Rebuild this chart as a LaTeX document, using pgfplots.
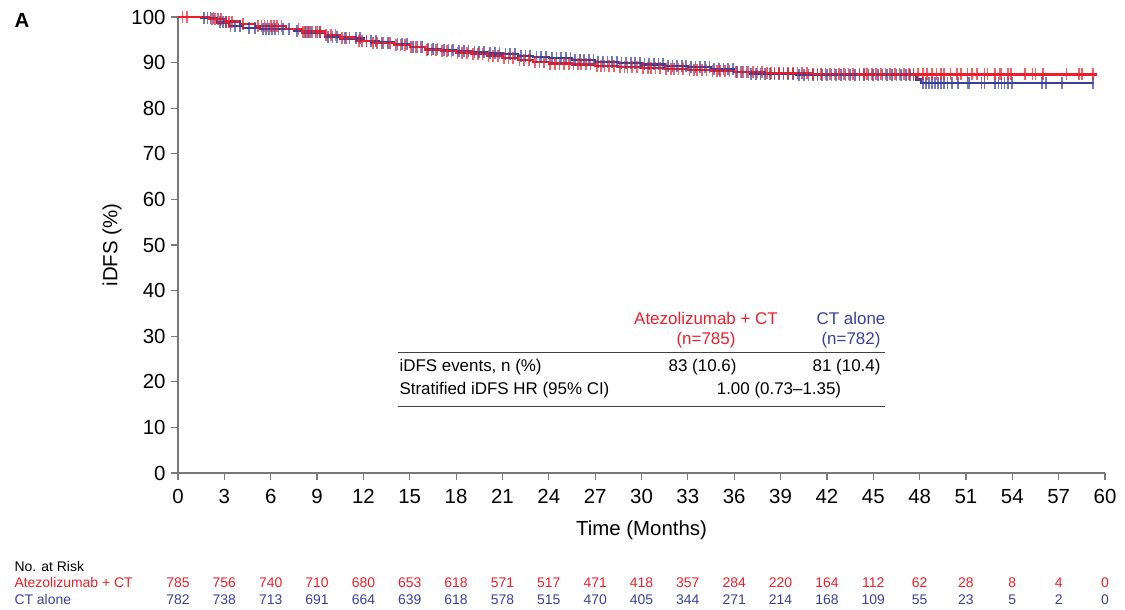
\documentclass[border=0pt]{standalone}
\usepackage{fontspec}
\setmainfont{Liberation Sans}
\usepackage{pgfplots}
\pgfplotsset{compat=1.18}
\definecolor{atezo}{RGB}{237,30,40}
\definecolor{ctal}{RGB}{55,65,155}
\definecolor{axgray}{RGB}{120,120,120}
\newcommand{\fbig}{\fontsize{20.5}{24}\selectfont}
\newcommand{\fmid}{\fontsize{17}{20}\selectfont}
\newcommand{\fsml}{\fontsize{14}{17}\selectfont}

\begin{document}
\begin{tikzpicture}[x=1bp,y=1bp]
\useasboundingbox (-178,-137) rectangle (947,473);
\begin{axis}[
  at={(0,0)}, anchor=south west,
  scale only axis, width=927bp, height=456bp,
  xmin=0, xmax=60, ymin=0, ymax=100,
  axis lines*=left,
  axis line style={axgray, line width=1.3bp},
  xtick={0,3,...,60}, ytick={0,10,...,100},
  tick align=outside, major tick length=7bp,
  tick style={axgray, line width=1.2bp},
  ticklabel style={font=\fbig},
  xticklabel style={yshift=-6bp},
  yticklabel style={xshift=-2bp},
  /pgf/number format/assume math mode=true,
  xlabel={Time (Months)}, ylabel={iDFS (\%)},
  every axis x label/.style={at={(axis description cs:0.5,-0.125)}, anchor=center, font=\fbig},
  every axis y label/.style={at={(axis description cs:-0.071,0.5)}, rotate=90, anchor=center, font=\fbig},
  censor/.style={only marks, mark=|, mark size=6bp, mark options={line width=1.7bp, opacity=0.7}},
  clip=false,
]
% CT alone
\addplot[const plot, ctal, line width=2.2bp] coordinates {
 (0,100) (1.5,99.7) (2.5,98.8) (3.3,98.1) (4.2,97.5) (5.3,97.3) (7.5,97.0)
 (8.0,96.6) (9.5,95.7) (10.5,95.3) (12,94.8) (13,94.4) (14,94.0) (15,93.5)
 (16,92.9) (17,92.7) (18,92.5) (19,92.3) (20,92.0) (21,91.8) (22,91.5)
 (23,91.3) (24,91.0) (25.5,90.6) (27,90.2) (28.5,89.9) (30,89.6) (31.5,89.3)
 (33,89.0) (34.5,88.5) (36,87.9) (37,87.5) (40,87.2) (47.8,86.3) (48.1,85.5)
 (59.3,85.5)
};
\addplot[censor, ctal] coordinates {
 (1.7,99.7)(1.9,99.7)(2.1,99.7)(2.3,99.7)(2.7,98.8)(2.9,98.8)(3.1,98.8)(3.4,98.1)
 (3.7,98.1)(4.0,98.1)(4.6,97.5)(5.0,97.5)(5.5,97.3)(5.7,97.3)(5.9,97.3)(6.1,97.3)
 (6.3,97.3)(6.5,97.3)(6.8,97.3)(7.2,97.3)(7.7,97.0)(8.2,96.6)(8.4,96.6)(8.6,96.6)
 (8.9,96.6)(9.2,96.6)(9.7,95.7)(10.0,95.7)(10.3,95.7)(10.8,95.3)(11.1,95.3)
 (11.5,95.3)(11.8,95.3)(12.2,94.8)(12.5,94.8)(12.8,94.8)(13.2,94.4)(13.6,94.4)
 (14.2,94.0)(14.5,94.0)(14.8,94.0)(15.2,93.5)(15.5,93.5)(15.8,93.5)(16.2,92.9)
 (16.5,92.9)(16.8,92.9)(17.2,92.7)(17.5,92.7)(17.8,92.7)(18.2,92.5)(18.5,92.5)
 (18.8,92.5)(19.2,92.3)(19.5,92.3)(19.8,92.3)(20.2,92.0)(20.5,92.0)(20.8,92.0)
 (21.2,91.8)(21.5,91.8)(21.8,91.8)(22.2,91.5)(22.5,91.5)(22.8,91.5)(23.2,91.3)
 (23.5,91.3)(23.8,91.3)(24.2,91.0)(24.5,91.0)(24.8,91.0)(25.1,91.0)(25.4,91.0)
 (25.7,90.6)(26.0,90.6)(26.3,90.6)(26.6,90.6)(26.9,90.6)
 (27.2,90.2)(27.5,90.2)(27.8,90.2)(28.1,90.2)(28.4,90.2)
 (28.7,89.9)(29.0,89.9)(29.3,89.9)(29.6,89.9)(29.9,89.9)
 (30.2,89.6)(30.5,89.6)(30.8,89.6)(31.1,89.6)(31.4,89.6)
 (31.7,89.3)(32.0,89.3)(32.3,89.3)(32.6,89.3)(32.9,89.3)
 (33.2,89.0)(33.5,89.0)(33.8,89.0)(34.1,89.0)(34.4,89.0)
 (34.7,88.5)(35.0,88.5)(35.3,88.5)(35.6,88.5)(35.9,88.5)
 (36.2,87.9)(36.5,87.9)(36.8,87.9)
 (37.1,87.5)(37.4,87.5)(37.7,87.5)(38.0,87.5)(38.3,87.5)(38.6,87.5)(38.9,87.5)
 (39.2,87.5)(39.5,87.5)(39.8,87.5)
 (40.2,87.2)(40.5,87.2)(40.8,87.2)(41.1,87.2)(41.4,87.2)(41.7,87.2)(42.0,87.2)
 (42.3,87.2)(42.6,87.2)(42.9,87.2)(43.2,87.2)(43.5,87.2)(43.8,87.2)(44.1,87.2)
 (44.4,87.2)(44.7,87.2)(45.0,87.2)(45.3,87.2)(45.6,87.2)(45.9,87.2)(46.2,87.2)
 (46.5,87.2)(46.8,87.2)(47.1,87.2)(47.4,87.2)(47.6,87.2)
 (48.2,85.5)(48.4,85.5)(48.6,85.5)(48.8,85.5)(49.0,85.5)(49.2,85.5)(49.4,85.5)
 (49.6,85.5)(49.8,85.5)(50.1,85.5)(50.5,85.5)(51.1,85.5)(51.2,85.5)(52.0,85.5)
 (52.2,85.5)(52.9,85.5)(53.1,85.5)(53.3,85.5)(53.5,85.5)(53.7,85.5)(54.0,85.5)
 (55.9,85.5)(56.2,85.5)(57.2,85.5)(59.2,85.5)
};
% Atezolizumab + CT
\addplot[const plot, atezo, line width=2.2bp] coordinates {
 (0,100) (2.0,99.5) (3.0,99.0) (4.0,98.5) (5.0,98.1) (7.0,97.4) (8.0,96.8)
 (9.5,96.1) (10.5,95.5) (11.5,94.8) (12.5,94.3) (14,93.8) (15,93.4) (16,92.8)
 (17,92.5) (18,92.2) (19,91.8) (20,91.4) (21,91.0) (22,90.6) (23,90.2)
 (24,89.8) (25.5,89.6) (27,89.3) (28.5,89.0) (30,88.8) (31.5,88.6) (33,88.4)
 (34.5,88.2) (36,88.0) (38,87.7) (41,87.5) (44,87.4) (59.5,87.4)
};
\addplot[censor, atezo] coordinates {
 (0.3,100)(0.6,100)(2.2,99.5)(2.4,99.5)(2.6,99.5)(2.8,99.5)(3.1,99.0)(3.3,99.0)
 (3.5,99.0)(4.2,98.5)(5.2,98.1)(5.4,98.1)(5.6,98.1)(5.8,98.1)(6.0,98.1)(6.2,98.1)
 (6.4,98.1)(6.7,98.1)(7.8,97.4)(8.1,96.8)(8.3,96.8)(8.5,96.8)(8.7,96.8)(9.0,96.8)
 (9.2,96.8)(9.6,96.1)(9.9,96.1)(10.2,96.1)(10.6,95.5)(10.9,95.5)(11.7,94.8)
 (11.9,94.8)(12.2,94.8)(12.6,94.3)(12.9,94.3)(13.3,94.3)(13.7,94.3)(14.1,93.8)
 (14.4,93.8)(14.7,93.8)(15.1,93.4)(15.4,93.4)(15.7,93.4)(16.1,92.8)(16.4,92.8)
 (16.7,92.8)(17.1,92.5)(17.4,92.5)(17.7,92.5)(18.1,92.2)(18.4,92.2)(18.7,92.2)
 (19.1,91.8)(19.4,91.8)(19.7,91.8)(20.1,91.4)(20.4,91.4)(20.7,91.4)(21.1,91.0)
 (21.4,91.0)(21.7,91.0)(22.1,90.6)(22.4,90.6)(22.7,90.6)(23.1,90.2)(23.4,90.2)
 (23.7,90.2)(24.1,89.8)(24.4,89.8)(24.7,89.8)(25.0,89.8)(25.3,89.8)
 (25.6,89.6)(25.9,89.6)(26.1,89.6)(26.4,89.6)(26.7,89.6)
 (27.1,89.3)(27.4,89.3)(27.6,89.3)(27.9,89.3)(28.2,89.3)
 (28.6,89.0)(28.9,89.0)(29.1,89.0)(29.4,89.0)(29.7,89.0)
 (30.1,88.8)(30.4,88.8)(30.6,88.8)(30.9,88.8)(31.2,88.8)
 (31.6,88.6)(31.9,88.6)(32.1,88.6)(32.4,88.6)(32.7,88.6)
 (33.1,88.4)(33.4,88.4)(33.6,88.4)(33.9,88.4)(34.2,88.4)
 (34.6,88.2)(34.9,88.2)(35.1,88.2)(35.4,88.2)(35.7,88.2)
 (36.1,88.0)(36.4,88.0)(36.6,88.0)(36.9,88.0)(37.2,88.0)(37.5,88.0)(37.8,88.0)
 (38.1,87.7)(38.4,87.7)(38.6,87.7)(38.9,87.7)(39.2,87.7)(39.5,87.7)(39.8,87.7)
 (40.1,87.7)(40.4,87.7)(40.7,87.7)
 (41.1,87.5)(41.4,87.5)(41.6,87.5)(41.9,87.5)(42.2,87.5)(42.5,87.5)(42.8,87.5)
 (43.1,87.5)(43.4,87.5)(43.7,87.5)
 (44.1,87.4)(44.4,87.4)(44.6,87.4)(44.9,87.4)(45.2,87.4)(45.5,87.4)(45.8,87.4)
 (46.1,87.4)(46.4,87.4)(46.7,87.4)(47.0,87.4)(47.3,87.4)(47.6,87.4)(47.9,87.4)
 (48.2,87.4)(48.5,87.4)(48.8,87.4)(49.1,87.4)(49.4,87.4)
 (49.6,87.4)(50.0,87.4)(50.4,87.4)(50.7,87.4)(51.1,87.4)(51.4,87.4)(51.7,87.4)
 (52.2,87.4)(52.4,87.4)(52.9,87.4)(53.2,87.4)(53.3,87.4)(53.7,87.4)(53.9,87.4)
 (54.8,87.4)(55.3,87.4)(55.5,87.4)(56.0,87.4)(57.5,87.4)(58.3,87.4)(58.5,87.4)
 (59.2,87.4)
};
\end{axis}

% panel letter
\node[anchor=west, font=\fbig\bfseries] at (-167,453) {A};

% summary table
\node[atezo, font=\fmid] at (528,155) {Atezolizumab + CT};
\node[atezo, font=\fmid] at (528,133) {(n=785)};
\node[ctal, font=\fmid] at (673,155) {CT alone};
\node[ctal, font=\fmid] at (673,133) {(n=782)};
\draw[black!75, line width=0.9bp] (220,121) -- (707,121);
\node[anchor=west, font=\fmid] at (218,106) {iDFS events, n (\%)};
\node[anchor=east, font=\fmid] at (562,106) {83 (10.6)};
\node[anchor=east, font=\fmid] at (706,106) {81 (10.4)};
\node[anchor=west, font=\fmid] at (218,83) {Stratified iDFS HR (95\% CI)};
\node[font=\fmid] at (601,83) {1.00 (0.73--1.35)};
\draw[black!75, line width=0.9bp] (220,67) -- (707,67);

% number at risk
\node[anchor=west, font=\fsml] at (-167,-94) {No. at Risk};
\node[anchor=west, font=\fsml, atezo] at (-167,-110) {Atezolizumab + CT};
\node[anchor=west, font=\fsml, ctal] at (-167,-127) {CT alone};
\foreach \t/\a/\b in {0/785/782, 3/756/738, 6/740/713, 9/710/691, 12/680/664,
  15/653/639, 18/618/618, 21/571/578, 24/517/515, 27/471/470, 30/418/405,
  33/357/344, 36/284/271, 39/220/214, 42/164/168, 45/112/109, 48/62/55,
  51/28/23, 54/8/5, 57/4/2, 60/0/0} {
  \node[atezo, font=\fsml] at (\t*15.45,-110) {\a};
  \node[ctal, font=\fsml] at (\t*15.45,-127) {\b};
}
\end{tikzpicture}
\end{document}
